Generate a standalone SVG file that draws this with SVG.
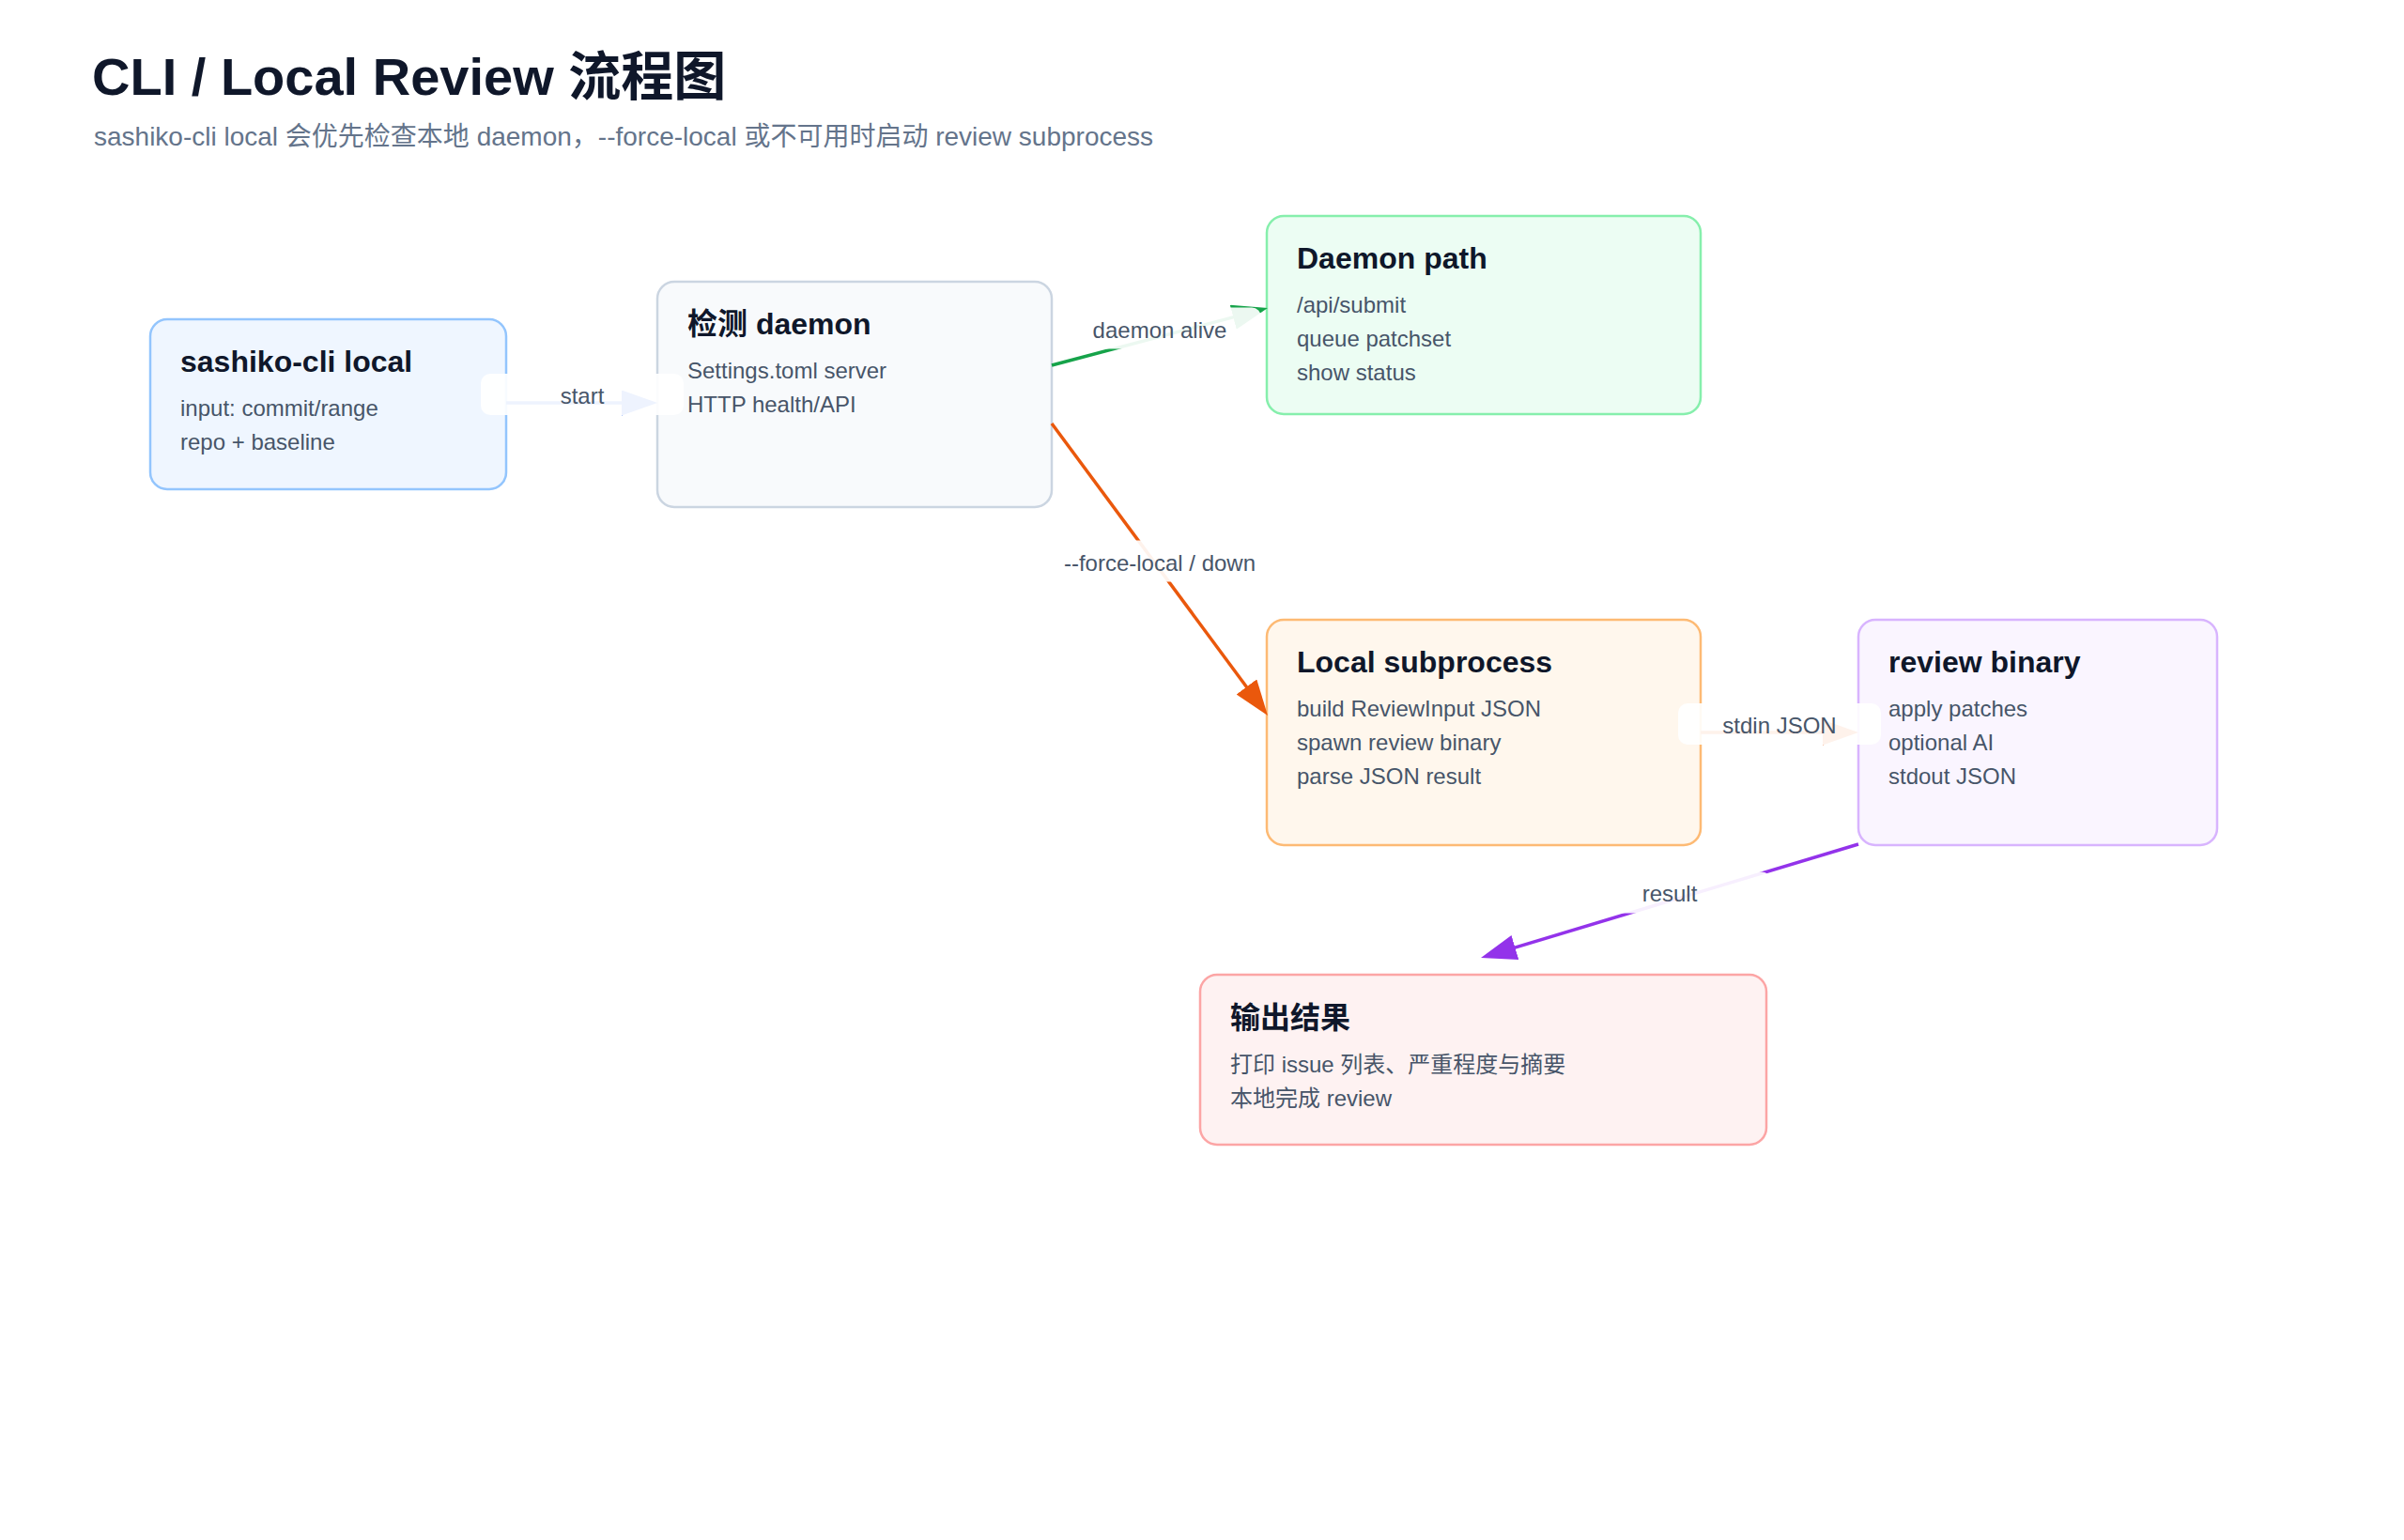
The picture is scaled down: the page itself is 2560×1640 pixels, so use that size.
<svg xmlns="http://www.w3.org/2000/svg" width="2560" height="1640" viewBox="0 0 2560 1640">
  <style>
    .t { font-family: "Liberation Sans", "Noto Sans CJK SC", sans-serif; }
    .h1 { font-size: 56px; font-weight: 700; fill: #0f172a; }
    .sub { font-size: 28px; fill: #64748b; }
    .nt { font-size: 32px; font-weight: 700; fill: #0f172a; }
    .nl { font-size: 24px; fill: #475569; }
    .el { font-size: 24px; fill: #475569; text-anchor: middle; }
    .node { stroke-width: 2.5; }
    .edge { fill: none; stroke-width: 3.5; }
    .lbg { fill: #ffffff; opacity: 0.92; }
  </style>
  <defs>
    <marker id="ab" markerUnits="userSpaceOnUse" markerWidth="38" markerHeight="27" refX="28" refY="13.5" orient="auto"><path d="M0,0 L38,13.5 L0,27 Z" fill="#2563eb"/></marker>
    <marker id="ag" markerUnits="userSpaceOnUse" markerWidth="38" markerHeight="27" refX="28" refY="13.5" orient="auto"><path d="M0,0 L38,13.5 L0,27 Z" fill="#16a34a"/></marker>
    <marker id="ao" markerUnits="userSpaceOnUse" markerWidth="38" markerHeight="27" refX="28" refY="13.5" orient="auto"><path d="M0,0 L38,13.5 L0,27 Z" fill="#ea580c"/></marker>
    <marker id="ap" markerUnits="userSpaceOnUse" markerWidth="38" markerHeight="27" refX="28" refY="13.5" orient="auto"><path d="M0,0 L38,13.5 L0,27 Z" fill="#9333ea"/></marker>
  </defs>
  <rect width="2560" height="1640" fill="#ffffff"/>

  <g id="header" class="t">
    <text class="h1" x="98" y="101">CLI / Local Review 流程图</text>
    <text class="sub" x="100" y="155">sashiko-cli local 会优先检查本地 daemon，--force-local 或不可用时启动 review subprocess</text>
  </g>

  <g id="node-cli" class="t">
    <rect class="node" x="160" y="340" width="379" height="181" rx="18" fill="#eff6ff" stroke="#93c5fd"/>
    <text class="nt" x="192" y="396">sashiko-cli local</text>
    <text class="nl" x="192" y="443">input: commit/range</text>
    <text class="nl" x="192" y="479">repo + baseline</text>
  </g>

  <g id="node-daemon-check" class="t">
    <rect class="node" x="700" y="300" width="420" height="240" rx="18" fill="#f8fafc" stroke="#cbd5e1"/>
    <text class="nt" x="732" y="356">检测 daemon</text>
    <text class="nl" x="732" y="403">Settings.toml server</text>
    <text class="nl" x="732" y="439">HTTP health/API</text>
  </g>

  <g id="node-daemon-path" class="t">
    <rect class="node" x="1349" y="230" width="462" height="211" rx="18" fill="#ecfdf3" stroke="#86efac"/>
    <text class="nt" x="1381" y="286">Daemon path</text>
    <text class="nl" x="1381" y="333">/api/submit</text>
    <text class="nl" x="1381" y="369">queue patchset</text>
    <text class="nl" x="1381" y="405">show status</text>
  </g>

  <g id="node-local" class="t">
    <rect class="node" x="1349" y="660" width="462" height="240" rx="18" fill="#fff7ed" stroke="#fdba74"/>
    <text class="nt" x="1381" y="716">Local subprocess</text>
    <text class="nl" x="1381" y="763">build ReviewInput JSON</text>
    <text class="nl" x="1381" y="799">spawn review binary</text>
    <text class="nl" x="1381" y="835">parse JSON result</text>
  </g>

  <g id="node-review" class="t">
    <rect class="node" x="1979" y="660" width="382" height="240" rx="18" fill="#faf5ff" stroke="#d8b4fe"/>
    <text class="nt" x="2011" y="716">review binary</text>
    <text class="nl" x="2011" y="763">apply patches</text>
    <text class="nl" x="2011" y="799">optional AI</text>
    <text class="nl" x="2011" y="835">stdout JSON</text>
  </g>

  <g id="node-output" class="t">
    <rect class="node" x="1278" y="1038" width="603" height="181" rx="18" fill="#fef2f2" stroke="#fca5a5"/>
    <text class="nt" x="1310" y="1095">输出结果</text>
    <text class="nl" x="1310" y="1142">打印 issue 列表、严重程度与摘要</text>
    <text class="nl" x="1310" y="1178">本地完成 review</text>
  </g>

  <g id="connectors" class="t">
    <g id="e-start">
      <line class="edge" x1="539" y1="429" x2="690" y2="429" stroke="#2563eb" marker-end="url(#ab)"/>
      <rect class="lbg" x="512" y="398" width="216" height="44" rx="10"/>
      <text class="el" x="620" y="430">start</text>
    </g>
    <g id="e-alive">
      <line class="edge" x1="1120" y1="389" x2="1340.3" y2="330.6" stroke="#16a34a" marker-end="url(#ag)"/>
      <rect class="lbg" x="1127" y="327.5" width="216" height="44" rx="10"/>
      <text class="el" x="1235" y="360">daemon alive</text>
    </g>
    <g id="e-force">
      <line class="edge" x1="1120" y1="451" x2="1344.05" y2="753.96" stroke="#ea580c" marker-end="url(#ao)"/>
      <rect class="lbg" x="1127" y="575.5" width="216" height="44" rx="10"/>
      <text class="el" x="1235" y="607.5">--force-local / down</text>
    </g>
    <g id="e-stdin">
      <line class="edge" x1="1811" y1="780" x2="1969" y2="780" stroke="#ea580c" marker-end="url(#ao)"/>
      <rect class="lbg" x="1787" y="749" width="216" height="44" rx="10"/>
      <text class="el" x="1895" y="781">stdin JSON</text>
    </g>
    <g id="e-result">
      <line class="edge" x1="1979" y1="899" x2="1586.6" y2="1017.1" stroke="#9333ea" marker-end="url(#ap)"/>
      <rect class="lbg" x="1670" y="928.5" width="216" height="44" rx="10"/>
      <text class="el" x="1778" y="960">result</text>
    </g>
  </g>
</svg>
